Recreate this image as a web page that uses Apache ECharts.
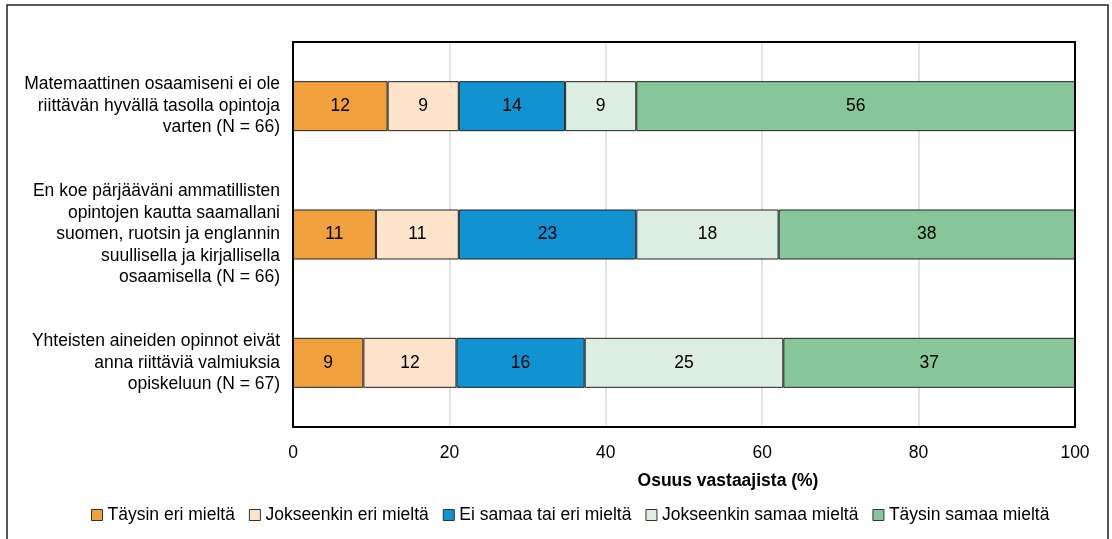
<!DOCTYPE html>
<html>
<head>
<meta charset="utf-8">
<script src="https://cdn.jsdelivr.net/npm/echarts@6/dist/echarts.min.js"></script>
<style>
  html, body { margin: 0; padding: 0; background: #fff; }
  #chart { width: 1112px; height: 539px; }
</style>
</head>
<body>
<div id="chart"></div>
<script>
// kysymykset (kategoriat)
var categories = [
  'Matemaattinen osaamiseni ei ole\nriittävän hyvällä tasolla opintoja\nvarten (N = 66)',
  'En koe pärjääväni ammatillisten\nopintojen kautta saamallani\nsuomen, ruotsin ja englannin\nsuullisella ja kirjallisella\nosaamisella (N = 66)',
  'Yhteisten aineiden opinnot eivät\nanna riittäviä valmiuksia\nopiskeluun (N = 67)'
];
var seriesNames = ['Täysin eri mieltä', 'Jokseenkin eri mieltä', 'Ei samaa tai eri mieltä', 'Jokseenkin samaa mieltä', 'Täysin samaa mieltä'];
// osuudet (%)
var taysinEri = [12.1, 10.6, 9.0];
var jokseenkinEri = [9.1, 10.6, 11.9];
var eiSamaaEiEri = [13.6, 22.7, 16.4];
var jokseenkinSamaa = [9.1, 18.2, 25.4];
var taysinSamaa = [56.1, 37.9, 37.3];
var xTicks = [0, 20, 40, 60, 80, 100];

var colors = ['#F0A13E', '#FCE3C9', '#1192D1', '#DCEEE1', '#87C69A'];
var font = '"Liberation Sans", Arial, sans-serif';
var values = [taysinEri, jokseenkinEri, eiSamaaEiEri, jokseenkinSamaa, taysinSamaa];

var series = [];
for (var i = 0; i < values.length; i++) {
  series.push({
    name: seriesNames[i],
    type: 'bar',
    stack: 'total',
    barWidth: 50,
    data: values[i],
    itemStyle: { color: colors[i], borderColor: '#222', borderWidth: 1 },
    label: {
      show: true,
      position: 'inside',
      color: '#000',
      fontSize: 17.5,
      fontFamily: font,
      formatter: function (p) { return Math.round(p.value); }
    }
  });
}

var myChart = echarts.init(document.getElementById('chart'));
var option = {
  animation: false,
  textStyle: { fontFamily: font },
  color: colors,
  graphic: [{
    type: 'rect',
    shape: { x: 7, y: 5, width: 1101, height: 545 },
    style: { fill: 'none', stroke: '#222', lineWidth: 1.5 }
  }, {
    type: 'rect',
    z: 100,
    shape: { x: 293, y: 42, width: 782, height: 385 },
    style: { fill: 'none', stroke: '#000', lineWidth: 2 }
  }],
  grid: {
    left: 293, right: 37, top: 42, bottom: 112
  },
  legend: {
    data: seriesNames,
    left: 86,
    bottom: 10,
    itemWidth: 11,
    itemHeight: 11,
    itemGap: 14,
    icon: 'rect',
    itemStyle: { borderColor: '#333', borderWidth: 1 },
    textStyle: { fontSize: 17.5, color: '#000', fontFamily: font }
  },
  xAxis: {
    type: 'value',
    min: 0, max: 100, interval: 20,
    name: 'Osuus vastaajista (%)',
    nameLocation: 'middle',
    nameGap: 45,
    nameTextStyle: { fontSize: 17.5, fontWeight: 'bold', color: '#000', fontFamily: font, padding: [0, 0, 0, 88] },
    axisLine: { show: false },
    axisTick: { show: false },
    axisLabel: {
      fontSize: 17.5, color: '#000', margin: 17, fontFamily: font,
      formatter: function (v) { return xTicks.indexOf(v) >= 0 ? String(v) : ''; }
    },
    splitLine: { show: true, lineStyle: { color: '#d9d9d9', width: 1.5 } }
  },
  yAxis: {
    type: 'category',
    inverse: true,
    data: categories,
    axisLine: { show: false },
    axisTick: { show: false },
    axisLabel: { fontSize: 17.5, color: '#000', margin: 13, lineHeight: 21.5, align: 'right', fontFamily: font }
  },
  series: series
};
myChart.setOption(option);
</script>
</body>
</html>
